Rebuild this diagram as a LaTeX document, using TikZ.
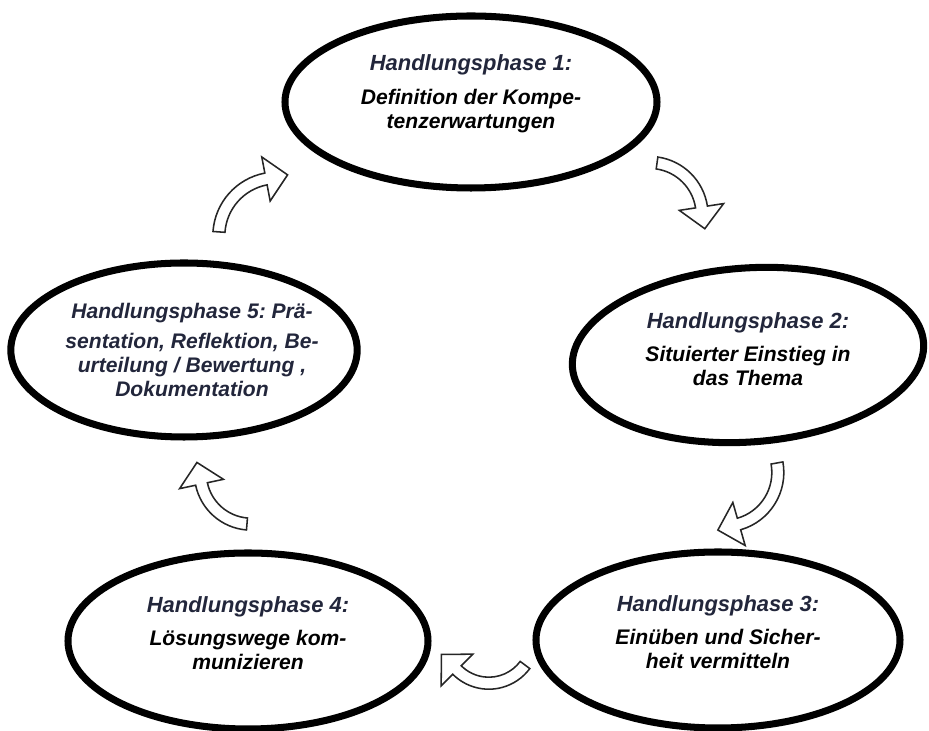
\documentclass[tikz,border=0pt]{standalone}
\usepackage{fontspec}
\setmainfont{Liberation Sans}
\usetikzlibrary{shapes.geometric}
\frenchspacing

\definecolor{headink}{HTML}{22263B}
\newcommand{\phasehead}[1]{{\fontsize{15.6}{17}\selectfont\textcolor{headink}{#1}}}
\newcommand{\shaftw}{0.15}
\newcommand{\headw}{0.56}
\newcommand{\headl}{0.55}

% Hollow bent arrow: centre x, centre y, radius, start angle, end angle.
\newcommand{\bendarrow}[5]{%
  \pgfmathsetmacro{\bendturn}{(#5>#4)?90:-90}%
  \pgfmathsetmacro{\tipx}{#3*cos(#5)+\headl*cos(#5+\bendturn)}%
  \pgfmathsetmacro{\tipy}{#3*sin(#5)+\headl*sin(#5+\bendturn)}%
  \draw[flowarrow,shift={(#1,#2)}]
    (#4:{#3-\shaftw}) arc[start angle=#4,end angle=#5,radius=#3-\shaftw]
    -- (#5:{#3-\headw}) -- (\tipx,\tipy) -- (#5:{#3+\headw})
    -- (#5:{#3+\shaftw}) arc[start angle=#5,end angle=#4,radius=#3+\shaftw]
    -- cycle;}

\tikzset{
  phase/.style={ellipse,draw,line width=5pt,inner sep=0pt},
  phasetext/.style={align=center,inner sep=0pt,
    font=\fontsize{15}{17}\selectfont\bfseries\itshape},
  flowarrow/.style={draw=black!85,line width=1.1pt,fill=white,line join=miter}
}

\begin{document}
\begin{tikzpicture}
\useasboundingbox (0,0) rectangle (23.225,18.275);

% The five phases, clockwise from the top.
\node[phase,minimum width=9.3cm,minimum height=4.3cm] (phase1) at (11.775,15.725) {};
\node[phase,minimum width=8.8cm,minimum height=4.35cm,rotate=4] (phase2) at (18.7,9.4) {};
\node[phase,minimum width=9.1cm,minimum height=4.4cm] (phase3) at (17.95,2.275) {};
\node[phase,minimum width=9.0cm,minimum height=4.4cm] (phase4) at (6.2,2.25) {};
\node[phase,minimum width=8.66cm,minimum height=4.35cm] (phase5) at (4.6,9.525) {};

\node[phasetext] (label1) at ([yshift=0.2cm]phase1.center)
  {\phasehead{Handlungsphase 1:}\\[7pt]Definition der Kompe-\\tenzerwartungen};
\node[phasetext] (label2) at ([yshift=0.15cm]phase2.center)
  {\phasehead{Handlungsphase 2:}\\[7pt]Situierter Einstieg in\\das Thema};
\node[phasetext] (label3) at ([yshift=0.2cm]phase3.center)
  {\phasehead{Handlungsphase 3:}\\[7pt]Einüben und Sicher-\\heit vermitteln};
\node[phasetext] (label4) at ([yshift=0.2cm]phase4.center)
  {\phasehead{Handlungsphase 4:}\\[7pt]Lösungswege kom-\\munizieren};
\node[phasetext,text=headink] (label5) at ([xshift=0.2cm]phase5.center)
  {Handlungsphase 5: Prä-\\[4pt]sentation, Reflektion, Be-\\urteilung / Bewertung ,\\Dokumentation};

% Bent arrows between the ellipses: centre, radius, start and end angle.
\foreach \cx/\cy/\r/\a/\b in {
  6.921/12.376/1.45/176/100.8,
  16.241/12.902/1.311/81.9/8.7,
  18.106/6.463/1.34/10.2/-74,
  12.221/2.321/1.126/323.4/225,
  6.278/6.439/1.268/265.3/192}
  \bendarrow{\cx}{\cy}{\r}{\a}{\b};
\end{tikzpicture}
\end{document}
